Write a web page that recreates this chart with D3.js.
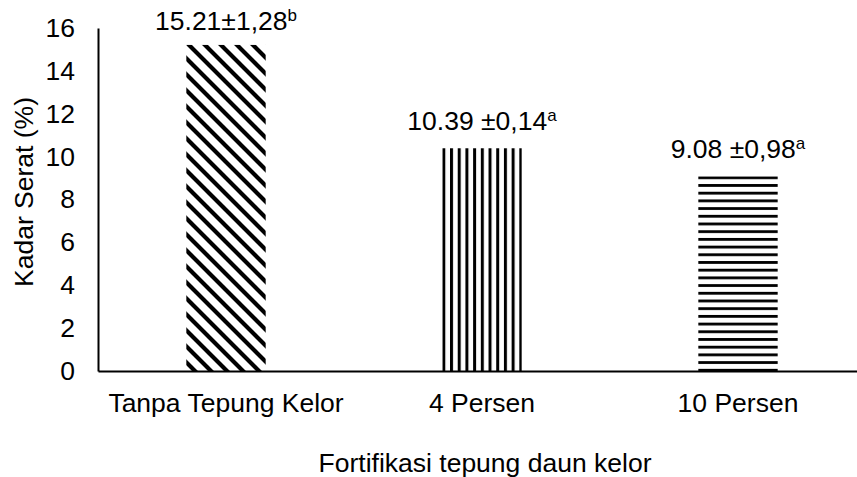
<!DOCTYPE html>
<html>
<head>
  <script src="https://d3js.org/d3.v7.min.js"></script>
  <style>
    body { margin: 0; background: #fff; }
    text { font-family: "Liberation Sans", Arial, sans-serif; fill: #000; }
  </style>
</head>
<body>
  <div id="chart"></div>
  <script>
    // chart values
    var categories = ["Tanpa Tepung Kelor", "4 Persen", "10 Persen"];
    var values = [15.21, 10.39, 9.08];
    var meanLabels = ["15.21±1,28", "10.39 ±0,14", "9.08 ±0,98"];
    var letters = ["b", "a", "a"];
    var yTicks = [0, 2, 4, 6, 8, 10, 12, 14, 16];

    var width = 857, height = 477;
    var fontSize = "26.5px";

    var svg = d3.select("#chart").append("svg")
      .attr("width", width)
      .attr("height", height);

    var x = d3.scaleBand()
      .domain(categories)
      .range([98, 866])
      .paddingInner(0.69)
      .paddingOuter(0.345);

    var y = d3.scaleLinear()
      .domain([0, 16])
      .range([371, 28]);

    var defs = svg.append("defs");

    // diagonal stripes (downward)
    var p1 = defs.append("pattern")
      .attr("id", "diag")
      .attr("patternUnits", "userSpaceOnUse")
      .attr("width", 16).attr("height", 16);
    p1.append("rect").attr("width", 16).attr("height", 16).attr("fill", "#fff");
    p1.append("path")
      .attr("d", "M-4,-4 L20,20 M-4,12 L4,20 M12,-4 L20,4")
      .attr("stroke", "#000").attr("stroke-width", 4.2);

    // vertical stripes, starting at the left edge of bar 2
    var p2 = defs.append("pattern")
      .attr("id", "vert")
      .attr("patternUnits", "userSpaceOnUse")
      .attr("width", 7.7).attr("height", 10)
      .attr("x", x(categories[1]));
    p2.append("rect").attr("width", 7.7).attr("height", 10).attr("fill", "#fff");
    p2.append("rect").attr("x", 0).attr("width", 3).attr("height", 10).attr("fill", "#000");

    // horizontal stripes, starting at the top of bar 3
    var p3 = defs.append("pattern")
      .attr("id", "horiz")
      .attr("patternUnits", "userSpaceOnUse")
      .attr("width", 10).attr("height", 7.7)
      .attr("y", y(values[2]));
    p3.append("rect").attr("width", 10).attr("height", 7.7).attr("fill", "#fff");
    p3.append("rect").attr("y", 0).attr("width", 10).attr("height", 2.8).attr("fill", "#000");

    var fills = ["url(#diag)", "url(#vert)", "url(#horiz)"];

    // bars
    svg.selectAll("rect.bar")
      .data(values)
      .enter().append("rect")
      .attr("class", "bar")
      .attr("x", (d, i) => x(categories[i]))
      .attr("width", x.bandwidth())
      .attr("y", d => y(d))
      .attr("height", d => y(0) - y(d))
      .attr("fill", (d, i) => fills[i]);

    // y axis
    var yAxis = svg.append("g")
      .attr("transform", "translate(98,0)")
      .call(d3.axisLeft(y).tickValues(yTicks).tickSize(0).tickPadding(23));
    yAxis.select(".domain").attr("stroke", "#000").attr("stroke-width", 2);
    yAxis.selectAll("text")
      .style("font-size", fontSize)
      .style("font-family", "'Liberation Sans', Arial, sans-serif");

    // x axis
    var xAxis = svg.append("g")
      .attr("transform", "translate(0,371)")
      .call(d3.axisBottom(x).tickSize(0).tickPadding(22));
    xAxis.select(".domain").attr("stroke", "#000").attr("stroke-width", 2);
    xAxis.selectAll("text")
      .style("font-size", fontSize)
      .style("font-family", "'Liberation Sans', Arial, sans-serif");

    // value labels
    var lbl = svg.selectAll("text.val")
      .data(values)
      .enter().append("text")
      .attr("class", "val")
      .attr("x", (d, i) => x(categories[i]) + x.bandwidth() / 2)
      .attr("y", d => Math.max(y(d) - 18, 30))
      .attr("text-anchor", "middle")
      .style("font-size", fontSize);
    lbl.append("tspan").text((d, i) => meanLabels[i]);
    lbl.append("tspan")
      .attr("dy", -9)
      .style("font-size", "17px")
      .text((d, i) => letters[i]);

    // axis titles
    svg.append("text")
      .attr("x", 485)
      .attr("y", 472)
      .attr("text-anchor", "middle")
      .style("font-size", fontSize)
      .text("Fortifikasi tepung daun kelor");

    svg.append("text")
      .attr("transform", "rotate(-90)")
      .attr("x", -192)
      .attr("y", 33)
      .attr("text-anchor", "middle")
      .style("font-size", fontSize)
      .text("Kadar Serat (%)");
  </script>
</body>
</html>
